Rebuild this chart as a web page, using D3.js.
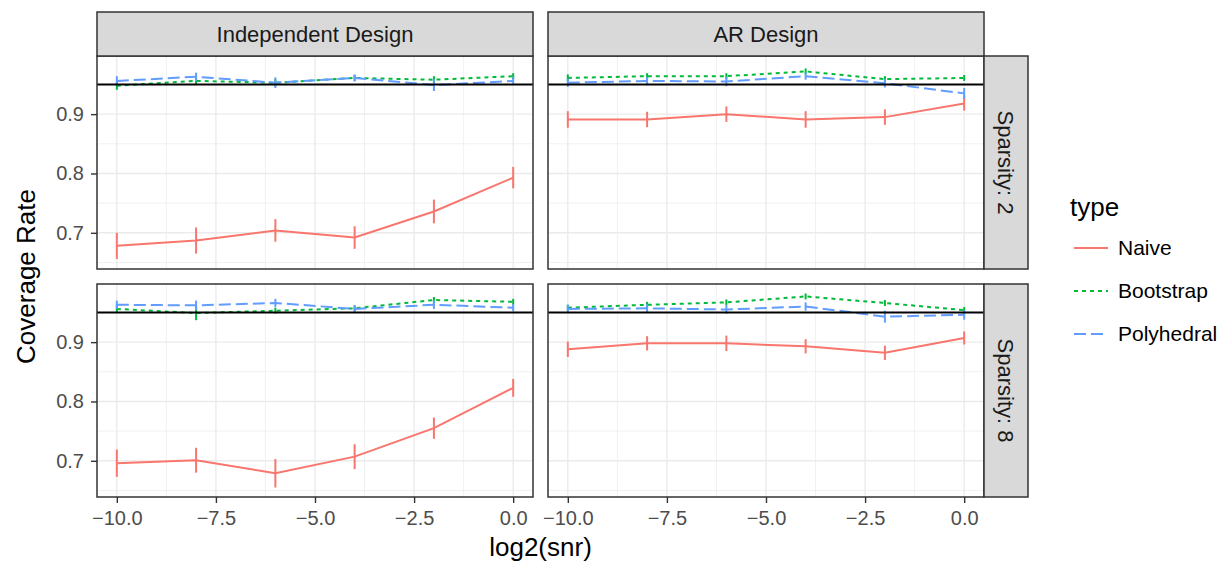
<!DOCTYPE html>
<html>
<head>
<meta charset="utf-8">
<script src="https://cdn.jsdelivr.net/npm/d3@7/dist/d3.min.js"></script>
<style>
  body { margin: 0; background: #fff; }
  svg { font-family: "Liberation Sans", Arial, sans-serif; }
</style>
</head>
<body>
<svg id="chart" width="1224" height="563"></svg>
<script>
// data
const snr = [-10, -8, -6, -4, -2, 0]
const designs = ['Independent Design', 'AR Design']
const sparsities = ['Sparsity: 2', 'Sparsity: 8']
const types = ['Naive', 'Bootstrap', 'Polyhedral']
const xTicks = [-10, -7.5, -5, -2.5, 0]
const yTicks = [0.7, 0.8, 0.9]

// Independent design, sparsity 2
const naiveInd2 = [0.678, 0.687, 0.704, 0.692, 0.736, 0.793]
const naiveInd2Err = [0.022, 0.022, 0.019, 0.019, 0.020, 0.018]
const bootInd2 = [0.948, 0.956, 0.953, 0.961, 0.958, 0.964]
const bootInd2Err = [0.007, 0.006, 0.006, 0.005, 0.006, 0.005]
const polyInd2 = [0.956, 0.963, 0.953, 0.961, 0.949, 0.956]
const polyInd2Err = [0.008, 0.007, 0.009, 0.006, 0.010, 0.007]

// AR design, sparsity 2
const naiveAR2 = [0.891, 0.891, 0.900, 0.891, 0.895, 0.918]
const naiveAR2Err = [0.014, 0.013, 0.013, 0.014, 0.013, 0.012]
const bootAR2 = [0.961, 0.964, 0.964, 0.972, 0.959, 0.961]
const bootAR2Err = [0.006, 0.005, 0.005, 0.005, 0.005, 0.005]
const polyAR2 = [0.953, 0.956, 0.955, 0.964, 0.952, 0.935]
const polyAR2Err = [0.007, 0.007, 0.008, 0.006, 0.007, 0.009]

// Independent design, sparsity 8
const naiveInd8 = [0.696, 0.701, 0.679, 0.707, 0.755, 0.823]
const naiveInd8Err = [0.023, 0.021, 0.024, 0.021, 0.018, 0.015]
const bootInd8 = [0.956, 0.949, 0.953, 0.957, 0.971, 0.968]
const bootInd8Err = [0.007, 0.012, 0.005, 0.005, 0.005, 0.005]
const polyInd8 = [0.963, 0.962, 0.966, 0.956, 0.963, 0.958]
const polyInd8Err = [0.007, 0.008, 0.007, 0.006, 0.007, 0.006]

// AR design, sparsity 8
const naiveAR8 = [0.888, 0.898, 0.898, 0.893, 0.882, 0.907]
const naiveAR8Err = [0.013, 0.012, 0.013, 0.012, 0.012, 0.011]
const bootAR8 = [0.958, 0.963, 0.967, 0.977, 0.966, 0.954]
const bootAR8Err = [0.005, 0.005, 0.005, 0.005, 0.005, 0.005]
const polyAR8 = [0.956, 0.957, 0.955, 0.960, 0.943, 0.946]
const polyAR8Err = [0.007, 0.007, 0.007, 0.007, 0.010, 0.008]

const target = 0.95

const panelData = [
  [ // sparsity 2
    [[naiveInd2, naiveInd2Err], [bootInd2, bootInd2Err], [polyInd2, polyInd2Err]],
    [[naiveAR2, naiveAR2Err], [bootAR2, bootAR2Err], [polyAR2, polyAR2Err]],
  ],
  [ // sparsity 8
    [[naiveInd8, naiveInd8Err], [bootInd8, bootInd8Err], [polyInd8, polyInd8Err]],
    [[naiveAR8, naiveAR8Err], [bootAR8, bootAR8Err], [polyAR8, polyAR8Err]],
  ],
]

const colors = ['#F8766D', '#00BA38', '#619CFF']
const dashes = [null, '4,4', '12,5']

// layout
const colX = [[97, 533], [548, 984]]
const rowY = [[56, 269], [284, 497]]
const stripTop = 12
const stripRight = 1028

const svg = d3.select('#chart')

rowY.forEach((ry, r) => {
  colX.forEach((cx, c) => {
    const x = d3.scaleLinear().domain([-10.5, 0.5]).range(cx)
    const y = d3.scaleLinear().domain([0.639, 0.998]).range([ry[1], ry[0]])
    const g = svg.append('g')

    // panel background
    g.append('rect')
      .attr('x', cx[0]).attr('y', ry[0])
      .attr('width', cx[1] - cx[0]).attr('height', ry[1] - ry[0])
      .attr('fill', '#fff')

    // minor grid
    const xMinor = xTicks.slice(0, -1).map(d => d + 1.25)
    const yMinor = [0.65, 0.75, 0.85, 0.95]
    g.selectAll('.xminor').data(xMinor).enter().append('line')
      .attr('x1', d => x(d)).attr('x2', d => x(d))
      .attr('y1', ry[0]).attr('y2', ry[1])
      .attr('stroke', '#ebebeb').attr('stroke-width', 0.7)
    g.selectAll('.yminor').data(yMinor).enter().append('line')
      .attr('x1', cx[0]).attr('x2', cx[1])
      .attr('y1', d => y(d)).attr('y2', d => y(d))
      .attr('stroke', '#ebebeb').attr('stroke-width', 0.7)

    // major grid
    g.selectAll('.xmajor').data(xTicks).enter().append('line')
      .attr('x1', d => x(d)).attr('x2', d => x(d))
      .attr('y1', ry[0]).attr('y2', ry[1])
      .attr('stroke', '#ebebeb').attr('stroke-width', 1.4)
    g.selectAll('.ymajor').data(yTicks).enter().append('line')
      .attr('x1', cx[0]).attr('x2', cx[1])
      .attr('y1', d => y(d)).attr('y2', d => y(d))
      .attr('stroke', '#ebebeb').attr('stroke-width', 1.4)

    // series: error bars then lines
    panelData[r][c].forEach(([vals, errs], t) => {
      const pts = snr.map((s, i) => ({x: s, y: vals[i], e: errs[i]}))
      g.selectAll('.err' + t).data(pts).enter().append('line')
        .attr('x1', d => x(d.x)).attr('x2', d => x(d.x))
        .attr('y1', d => y(d.y - d.e)).attr('y2', d => y(d.y + d.e))
        .attr('stroke', colors[t]).attr('stroke-width', 2)
      g.append('path')
        .datum(pts)
        .attr('d', d3.line().x(d => x(d.x)).y(d => y(d.y)))
        .attr('fill', 'none')
        .attr('stroke', colors[t])
        .attr('stroke-width', 2)
        .attr('stroke-dasharray', dashes[t])
    })

    // reference line
    g.append('line')
      .attr('x1', cx[0]).attr('x2', cx[1])
      .attr('y1', y(target)).attr('y2', y(target))
      .attr('stroke', '#000').attr('stroke-width', 2)

    // panel border
    g.append('rect')
      .attr('x', cx[0]).attr('y', ry[0])
      .attr('width', cx[1] - cx[0]).attr('height', ry[1] - ry[0])
      .attr('fill', 'none').attr('stroke', '#333').attr('stroke-width', 1.5)

    // y axis on left column
    if (c === 0) {
      const ya = g.append('g')
        .attr('transform', `translate(${cx[0]},0)`)
        .call(d3.axisLeft(y).tickValues(yTicks).tickSize(6).tickPadding(7).tickFormat(d3.format('.1f')))
      ya.select('.domain').remove()
      ya.selectAll('line').attr('stroke', '#333').attr('stroke-width', 1.4)
      ya.selectAll('text').attr('fill', '#4d4d4d').style('font-size', '20px')
        .style('font-family', '"Liberation Sans", Arial, sans-serif')
    }

    // x axis on bottom row
    if (r === 1) {
      const xa = g.append('g')
        .attr('transform', `translate(0,${ry[1]})`)
        .call(d3.axisBottom(x).tickValues(xTicks).tickSize(6).tickPadding(8)
          .tickFormat(d => d3.format('.1f')(d).replace('-', '\u2212')))
      xa.select('.domain').remove()
      xa.selectAll('line').attr('stroke', '#333').attr('stroke-width', 1.4)
      xa.selectAll('text').attr('fill', '#4d4d4d').style('font-size', '20px')
        .style('font-family', '"Liberation Sans", Arial, sans-serif')
    }

    // top strips
    if (r === 0) {
      g.append('rect')
        .attr('x', cx[0]).attr('y', stripTop)
        .attr('width', cx[1] - cx[0]).attr('height', ry[0] - stripTop)
        .attr('fill', '#d9d9d9').attr('stroke', '#333').attr('stroke-width', 1.5)
      g.append('text')
        .attr('x', (cx[0] + cx[1]) / 2).attr('y', (stripTop + ry[0]) / 2)
        .attr('dy', '0.35em').attr('text-anchor', 'middle')
        .attr('fill', '#1a1a1a').style('font-size', '22px')
        .text(designs[c])
    }

    // right strips
    if (c === 1) {
      g.append('rect')
        .attr('x', cx[1]).attr('y', ry[0])
        .attr('width', stripRight - cx[1]).attr('height', ry[1] - ry[0])
        .attr('fill', '#d9d9d9').attr('stroke', '#333').attr('stroke-width', 1.5)
      const tx = (cx[1] + stripRight) / 2, ty = (ry[0] + ry[1]) / 2
      g.append('text')
        .attr('transform', `translate(${tx},${ty}) rotate(90)`)
        .attr('dy', '0.35em').attr('text-anchor', 'middle')
        .attr('fill', '#1a1a1a').style('font-size', '22px')
        .text(sparsities[r])
    }
  })
})

// axis titles
svg.append('text')
  .attr('x', (colX[0][0] + colX[1][1]) / 2).attr('y', 556)
  .attr('text-anchor', 'middle').style('font-size', '26px')
  .text('log2(snr)')
svg.append('text')
  .attr('transform', `translate(35,${(rowY[0][0] + rowY[1][1]) / 2}) rotate(-90)`)
  .attr('text-anchor', 'middle').style('font-size', '26px')
  .text('Coverage Rate')

// legend
const legend = svg.append('g')
legend.append('text')
  .attr('x', 1070).attr('y', 216)
  .style('font-size', '26px')
  .text('type')
const ly = d3.scalePoint().domain(types).range([248, 334])
types.forEach((t, i) => {
  legend.append('line')
    .attr('x1', 1074).attr('x2', 1108)
    .attr('y1', ly(t)).attr('y2', ly(t))
    .attr('stroke', colors[i]).attr('stroke-width', 2)
    .attr('stroke-dasharray', dashes[i])
  legend.append('text')
    .attr('x', 1118).attr('y', ly(t))
    .attr('dy', '0.35em')
    .style('font-size', '21px')
    .text(t)
})
</script>
</body>
</html>
